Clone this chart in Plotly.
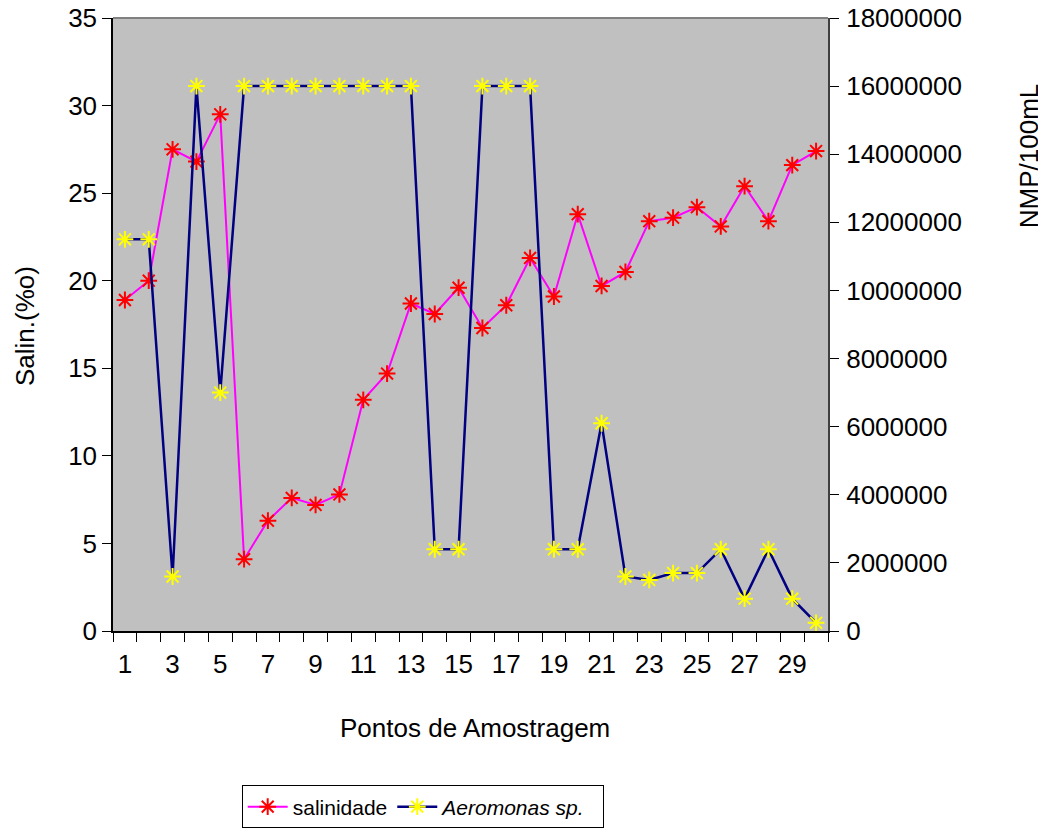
import plotly.graph_objects as go

pontos = list(range(1, 31))
salinidade = [18.9, 20.0, 27.5, 26.8, 29.5, 4.1, 6.3, 7.6, 7.2, 7.8,
              13.2, 14.7, 18.7, 18.1, 19.6, 17.3, 18.6, 21.3, 19.1, 23.8,
              19.7, 20.5, 23.4, 23.6, 24.2, 23.1, 25.4, 23.4, 26.6, 27.4]
aeromonas = [11500000, 11500000, 1600000, 16000000, 7000000, 16000000, 16000000, 16000000, 16000000, 16000000,
             16000000, 16000000, 16000000, 2400000, 2400000, 16000000, 16000000, 16000000, 2400000, 2400000,
             6100000, 1600000, 1500000, 1700000, 1700000, 2400000, 950000, 2400000, 950000, 240000]
x_labels = [1, 3, 5, 7, 9, 11, 13, 15, 17, 19, 21, 23, 25, 27, 29]
left_ticks = [0, 5, 10, 15, 20, 25, 30, 35]
right_ticks = [0, 2000000, 4000000, 6000000, 8000000, 10000000, 12000000, 14000000, 16000000, 18000000]

FONT = "Liberation Sans, Arial, sans-serif"
FS = 26

fig = go.Figure()
fig.add_trace(go.Scatter(
    x=pontos, y=salinidade, name="salinidade", mode="lines+markers",
    line=dict(color="#FF00FF", width=2),
    marker=dict(symbol="asterisk-open", size=14, color="#FF0000",
                line=dict(color="#FF0000", width=2)),
))
fig.add_trace(go.Scatter(
    x=pontos, y=aeromonas, name="<i>Aeromonas sp.</i>\u00a0\u00a0", mode="lines+markers", yaxis="y2",
    line=dict(color="#000080", width=2.5),
    marker=dict(symbol="asterisk-open", size=14, color="#FFFF00",
                line=dict(color="#FFFF00", width=2)),
))

fig.update_layout(
    width=1038, height=822,
    margin=dict(l=105, r=218, t=10, b=199, autoexpand=False),
    paper_bgcolor="white", plot_bgcolor="#C0C0C0",
    font=dict(family=FONT, size=FS, color="black"),
    showlegend=True,
    legend=dict(orientation="h", x=0.18, y=-0.252, xanchor="left", yanchor="top",
                bordercolor="black", borderwidth=1, bgcolor="white",
                font=dict(size=21), itemwidth=40, tracegroupgap=0),
    xaxis=dict(range=[0.5, 30.5], tickmode="array", tickvals=x_labels,
               ticktext=[str(v) for v in x_labels], ticks="outside", ticklen=0,
               ticklabelstandoff=9, automargin=False,
               showgrid=False, zeroline=False, showline=True, linecolor="black", linewidth=1.5,
               minor=dict(tickmode="array", tickvals=[i + 0.5 for i in range(0, 31)],
                          ticks="outside", ticklen=9, tickcolor="black", tickwidth=1, showgrid=False),
               tickfont=dict(size=FS)),
    yaxis=dict(range=[0, 35], tickvals=left_ticks, ticks="outside", ticklen=9, tickcolor="black",
               automargin=False, ticklabeloverflow="allow",
               showgrid=False, zeroline=False, showline=True, linecolor="black", linewidth=1.5,
               tickfont=dict(size=FS)),
    yaxis2=dict(range=[0, 18000000], tickvals=right_ticks, ticktext=[str(v) for v in right_ticks],
                overlaying="y", side="right", ticks="outside", ticklen=9, tickcolor="black",
                ticklabelstandoff=2, automargin=False, ticklabeloverflow="allow",
                showgrid=False, zeroline=False, showline=True, linecolor="#404040", linewidth=2,
                tickfont=dict(size=FS)),
    shapes=[dict(type="line", xref="paper", yref="paper", x0=0, x1=1, y0=1, y1=1,
                 line=dict(color="#808080", width=2))],
    annotations=[
        dict(text="Pontos de Amostragem", xref="paper", yref="paper", x=0.506, y=-0.158,
             showarrow=False, font=dict(size=FS), xanchor="center", yanchor="middle"),
        dict(text="Salin.(%o)", xref="paper", yref="paper", x=-0.123, y=0.4976,
             textangle=-90, showarrow=False, font=dict(size=FS), xanchor="center", yanchor="middle"),
        dict(text="NMP/100mL", xref="paper", yref="paper", x=1.281, y=0.776,
             textangle=-90, showarrow=False, font=dict(size=FS), xanchor="center", yanchor="middle"),
    ],
)

fig.write_html("out.html")
